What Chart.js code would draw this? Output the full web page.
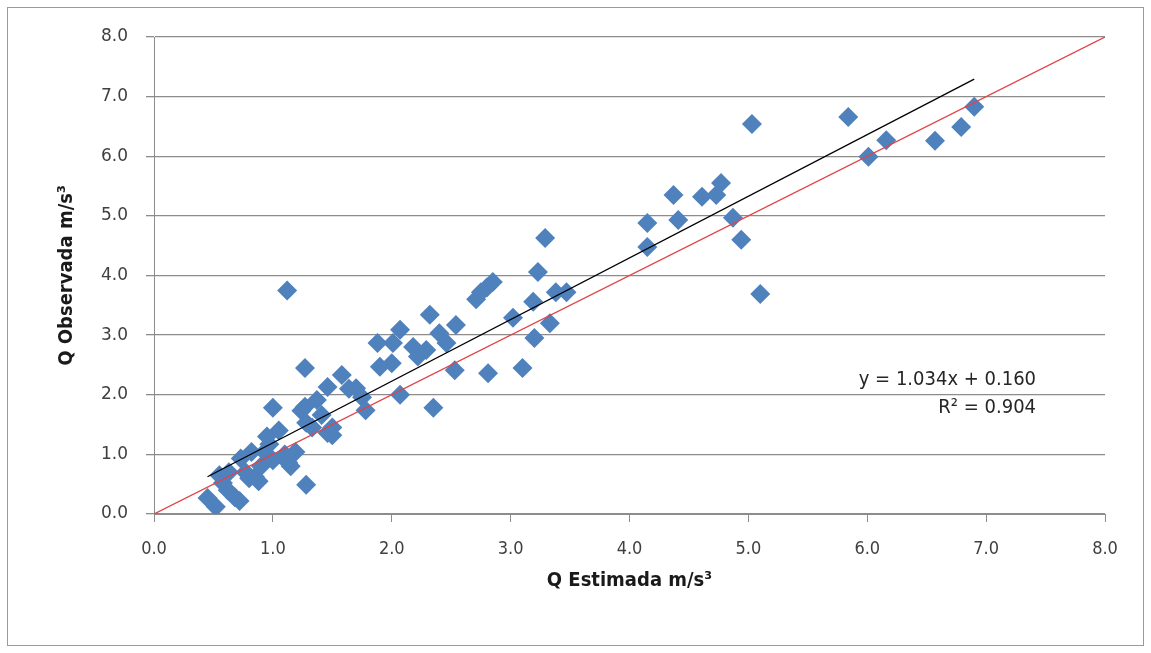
<!DOCTYPE html>
<html>
<head>
<meta charset="utf-8">
<script src="https://cdn.jsdelivr.net/npm/chart.js@4/dist/chart.umd.min.js"></script>
<style>
  html, body { margin: 0; padding: 0; background: #fff; }
  #wrap { width: 1151px; height: 653px; }
</style>
</head>
<body>
<div id="wrap"><canvas id="c" width="1151" height="653"></canvas></div>
<script>
// Estimated vs. observed discharge pairs
const qEstimada = [
  0.45, 0.52, 0.55, 0.58, 0.62, 0.63, 0.68, 0.72, 0.73, 0.77, 0.80, 0.82, 0.85, 0.88, 0.90,
  0.93, 0.95, 0.97, 1.00, 1.00, 1.05, 1.10, 1.13, 1.15, 1.12, 1.19, 1.24, 1.27, 1.27, 1.28,
  1.28, 1.33, 1.37, 1.41, 1.46, 1.46, 1.50, 1.50, 1.58, 1.64, 1.70, 1.75, 1.78, 1.88, 1.90,
  2.00, 2.01, 2.07, 2.07, 2.18, 2.22, 2.29, 2.32, 2.35, 2.40, 2.46, 2.53, 2.54, 2.71, 2.75,
  2.80, 2.81, 2.85, 3.02, 3.10, 3.20, 3.19, 3.23, 3.29, 3.33, 3.38, 3.47, 4.15, 4.15, 4.37,
  4.41, 4.61, 4.73, 4.77, 4.87, 4.94, 5.03, 5.10, 5.84, 6.01, 6.16, 6.57, 6.79, 6.90
];
const qObservada = [
  0.27, 0.12, 0.65, 0.52, 0.40, 0.70, 0.28, 0.22, 0.93, 0.70, 0.60, 1.04, 0.62, 0.55, 0.80,
  1.04, 1.30, 1.17, 0.90, 1.78, 1.40, 1.00, 0.86, 0.80, 3.75, 1.04, 1.73, 1.80, 2.45, 0.49,
  1.53, 1.45, 1.91, 1.66, 1.36, 2.13, 1.32, 1.45, 2.33, 2.10, 2.11, 1.96, 1.74, 2.87, 2.47,
  2.53, 2.87, 3.09, 2.00, 2.80, 2.64, 2.75, 3.34, 1.78, 3.03, 2.87, 2.41, 3.17, 3.60, 3.72,
  3.80, 2.36, 3.89, 3.29, 2.45, 2.95, 3.56, 4.06, 4.63, 3.20, 3.72, 3.72, 4.88, 4.48, 5.35,
  4.93, 5.32, 5.35, 5.55, 4.97, 4.60, 6.54, 3.69, 6.66, 5.99, 6.27, 6.26, 6.49, 6.83
];

// Linear fit reported on the chart
const fitSlope = 1.034;
const fitIntercept = 0.160;
const fitR2 = 0.904;
const fitRange = [0.45, 6.90];

// 1:1 reference line and axis ticks
const identityRange = [0, 8];
const axisTicks = [0, 1, 2, 3, 4, 5, 6, 7, 8];

const points = qEstimada.map((x, i) => ({ x: x, y: qObservada[i] }));
const fitLine = fitRange.map(x => ({ x: x, y: fitSlope * x + fitIntercept }));
const identityLine = identityRange.map(x => ({ x: x, y: x }));

const NARROW = "'Liberation Sans Narrow', 'DejaVu Sans Condensed', 'Liberation Sans', sans-serif";
const Y_TICK_FONT = { family: "'DejaVu Sans', sans-serif", size: 17 };
const X_TICK_FONT = { family: NARROW, size: 18 };
const TITLE_FONT = { family: NARROW, size: 20, weight: 'bold' };

const framePlugin = {
  id: 'frame',
  beforeDraw(chart) {
    const ctx = chart.ctx;
    ctx.save();
    ctx.fillStyle = '#ffffff';
    ctx.fillRect(0, 0, chart.width, chart.height);
    ctx.strokeStyle = '#9a9a9a';
    ctx.lineWidth = 1;
    ctx.strokeRect(7.5, 7.5, 1136, 638);
    ctx.restore();
  }
};

const equationPlugin = {
  id: 'equation',
  afterDatasetsDraw(chart) {
    const { ctx, scales } = chart;
    const xr = scales.x.getPixelForValue(7.42);
    ctx.save();
    ctx.fillStyle = '#262626';
    ctx.font = "20px " + NARROW;
    ctx.textAlign = 'right';
    ctx.textBaseline = 'middle';
    ctx.fillText('y = ' + fitSlope.toFixed(3) + 'x + ' + fitIntercept.toFixed(3), xr, scales.y.getPixelForValue(2.25));
    ctx.fillText('R² = ' + fitR2.toFixed(3), xr, scales.y.getPixelForValue(1.78));
    ctx.restore();
  }
};

new Chart(document.getElementById('c'), {
  type: 'scatter',
  data: {
    datasets: [
      {
        type: 'line',
        data: fitLine,
        borderColor: '#000000',
        borderWidth: 1.3,
        pointRadius: 0,
        fill: false,
        order: 0
      },
      {
        type: 'line',
        data: identityLine,
        borderColor: '#e0454a',
        borderWidth: 1.3,
        pointRadius: 0,
        fill: false,
        order: 1
      },
      {
        data: points,
        pointStyle: 'rectRot',
        pointRadius: 10,
        pointHoverRadius: 10,
        backgroundColor: '#4f81bd',
        borderWidth: 0,
        order: 2
      }
    ]
  },
  options: {
    responsive: false,
    animation: false,
    events: [],
    layout: { padding: { left: 8, right: 46, top: 37, bottom: 8 } },
    plugins: { legend: { display: false }, tooltip: { enabled: false } },
    scales: {
      x: {
        type: 'linear',
        min: 0, max: 8,
        afterBuildTicks(s) { s.ticks = axisTicks.map(v => ({ value: v })); },
        afterFit(s) { s.height = 131; },
        ticks: {
          font: X_TICK_FONT, color: '#404040', padding: 17,
          callback: v => v.toFixed(1), maxRotation: 0
        },
        grid: { drawOnChartArea: false, drawTicks: true, tickLength: 8, color: '#8c8c8c', lineWidth: 1 },
        border: { color: '#8c8c8c', width: 1 },
        title: { display: true, text: 'Q Estimada m/s³', font: TITLE_FONT, color: '#1a1a1a', padding: { top: 0, bottom: 52 } }
      },
      y: {
        type: 'linear',
        min: 0, max: 8,
        afterBuildTicks(s) { s.ticks = axisTicks.map(v => ({ value: v })); },
        afterFit(s) { s.width = 146; },
        ticks: {
          font: Y_TICK_FONT, color: '#404040', padding: 18,
          callback: v => v.toFixed(1)
        },
        grid: { drawOnChartArea: true, drawTicks: true, tickLength: 8, color: '#8c8c8c', lineWidth: 1.3 },
        border: { color: '#8c8c8c', width: 1 },
        title: { display: true, text: 'Q Observada m/s³', font: TITLE_FONT, color: '#1a1a1a', padding: { top: 47, bottom: 0 } }
      }
    }
  },
  plugins: [framePlugin, equationPlugin]
});
</script>
</body>
</html>
